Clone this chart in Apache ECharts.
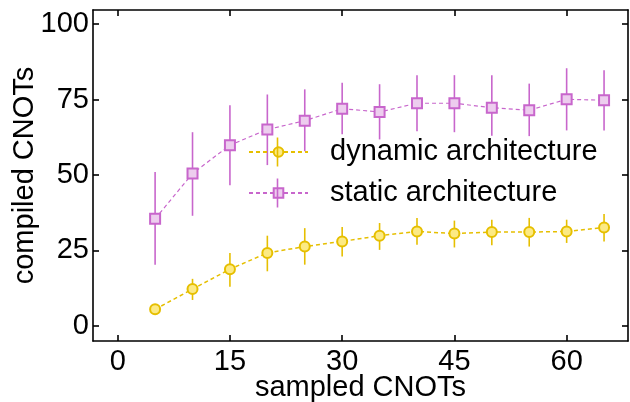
<!DOCTYPE html>
<html lang="en">
<head>
    <meta charset="UTF-8">
    <title>compiled vs sampled CNOTs</title>
    <script src="https://cdn.jsdelivr.net/npm/echarts@6/dist/echarts.min.js"></script>
</head>
<body style="margin:0;background:#fff;">
<div id="main" style="width:630px;height:402px;"></div>
<script type="text/javascript">
    // data
    var sampled = [5, 10, 15, 20, 25, 30, 35, 40, 45, 50, 55, 60, 65];

    var dynMean = [5.5, 12.2, 18.8, 24.2, 26.3, 28.0, 29.9, 31.3, 30.6, 31.1, 31.1, 31.3, 32.6];
    var dynLow  = [4.8, 8.6, 13.0, 18.1, 20.3, 23.0, 25.2, 26.9, 26.0, 26.7, 26.3, 27.5, 28.0];
    var dynHigh = [6.2, 15.6, 24.2, 29.9, 32.4, 32.8, 34.1, 35.8, 34.9, 35.2, 35.8, 35.2, 37.1];

    var staMean = [35.5, 50.5, 59.9, 65.1, 68.0, 72.0, 70.9, 73.8, 73.8, 72.3, 71.5, 75.1, 74.8];
    var staLow  = [20.3, 36.5, 46.6, 53.3, 57.9, 63.5, 61.8, 64.5, 64.2, 63.0, 62.9, 64.8, 64.8];
    var staHigh = [51.0, 64.2, 73.1, 76.7, 78.4, 80.6, 80.1, 83.1, 83.1, 83.1, 80.3, 85.4, 84.7];

    var xTicks = [0, 15, 30, 45, 60];
    var yTicks = [0, 25, 50, 75, 100];

    var pink = '#c866cc', pinkFill = '#edcdee';
    var gold = '#e6bf00', goldFill = '#fcea84';
    var font = 'Liberation Sans, Arial, Helvetica, sans-serif';
    var fs = 29;

    function pairs(ys) {
        return sampled.map(function (x, i) { return [x, ys[i]]; });
    }

    // vertical error bars drawn through the axes scales
    function errorBars(low, high, color) {
        return {
            type: 'custom',
            silent: true,
            z: 1,
            encode: {x: 0, y: [1, 2]},
            data: sampled.map(function (x, i) { return [x, low[i], high[i]]; }),
            renderItem: function (params, api) {
                var a = api.coord([api.value(0), api.value(1)]);
                var b = api.coord([api.value(0), api.value(2)]);
                return {
                    type: 'line',
                    shape: {x1: a[0], y1: a[1], x2: b[0], y2: b[1]},
                    style: {stroke: color, lineWidth: 1.6}
                };
            }
        };
    }

    function xAxis(pos) {
        return {
            type: 'value', position: pos, min: -3.3, max: 68.2,
            axisLine: {show: true, onZero: false, lineStyle: {color: '#000', width: 1.6}},
            axisTick: {show: true, inside: true, length: 6, customValues: xTicks, lineStyle: {color: '#000', width: 1.6}},
            axisLabel: {show: pos === 'bottom', customValues: xTicks, color: '#000', fontSize: fs, fontFamily: font, margin: 6},
            splitLine: {show: false},
            name: pos === 'bottom' ? 'sampled CNOTs' : '',
            nameLocation: 'middle', nameGap: 32, nameMoveOverlap: false,
            nameTextStyle: {color: '#000', fontSize: fs, fontFamily: font}
        };
    }

    function yAxis(pos) {
        return {
            type: 'value', position: pos, min: -5, max: 104.7,
            axisLine: {show: true, onZero: false, lineStyle: {color: '#000', width: 1.6}},
            axisTick: {show: true, inside: true, length: 6, customValues: yTicks, lineStyle: {color: '#000', width: 1.6}},
            axisLabel: {show: pos === 'left', customValues: yTicks, color: '#000', fontSize: fs, fontFamily: font, margin: 4},
            splitLine: {show: false},
            name: pos === 'left' ? 'compiled CNOTs' : '',
            nameLocation: 'middle', nameGap: 54, nameRotate: 90, nameMoveOverlap: false,
            nameTextStyle: {color: '#000', fontSize: fs, fontFamily: font}
        };
    }

    // small vertical bars through the legend markers
    function legendBar(y, color) {
        return {
            type: 'line', z: 100,
            shape: {x1: 277.5, y1: y - 14.5, x2: 277.5, y2: y + 14.5},
            style: {stroke: color, lineWidth: 1.6}
        };
    }

    var myChart = echarts.init(document.getElementById('main'));
    var option = {
        animation: false,
        grid: {left: 93, right: 2, top: 10, bottom: 61, outerBoundsMode: 'none'},
        xAxis: [xAxis('bottom'), xAxis('top')],
        yAxis: [yAxis('left'), yAxis('right')],
        legend: {
            data: ['dynamic architecture', 'static architecture'],
            orient: 'vertical', left: 248, top: 135, padding: 0,
            itemWidth: 59, itemHeight: 12, itemGap: 7,
            textStyle: {color: '#000', fontSize: fs, fontFamily: font, lineHeight: 34, padding: [0, 0, 0, 17]}
        },
        graphic: {elements: [legendBar(152, gold), legendBar(193, pink)]},
        series: [
            errorBars(dynLow, dynHigh, gold),
            errorBars(staLow, staHigh, pink),
            {
                name: 'dynamic architecture', type: 'line', z: 3,
                data: pairs(dynMean),
                symbol: 'circle', symbolSize: 10,
                lineStyle: {color: gold, width: 1.5, type: [4, 3]},
                itemStyle: {color: goldFill, borderColor: gold, borderWidth: 2}
            },
            {
                name: 'static architecture', type: 'line', z: 3,
                data: pairs(staMean),
                symbol: 'rect', symbolSize: 10,
                lineStyle: {color: pink, width: 1.2, type: [4, 3]},
                itemStyle: {color: pinkFill, borderColor: pink, borderWidth: 2}
            }
        ]
    };
    myChart.setOption(option);
</script>
</body>
</html>
